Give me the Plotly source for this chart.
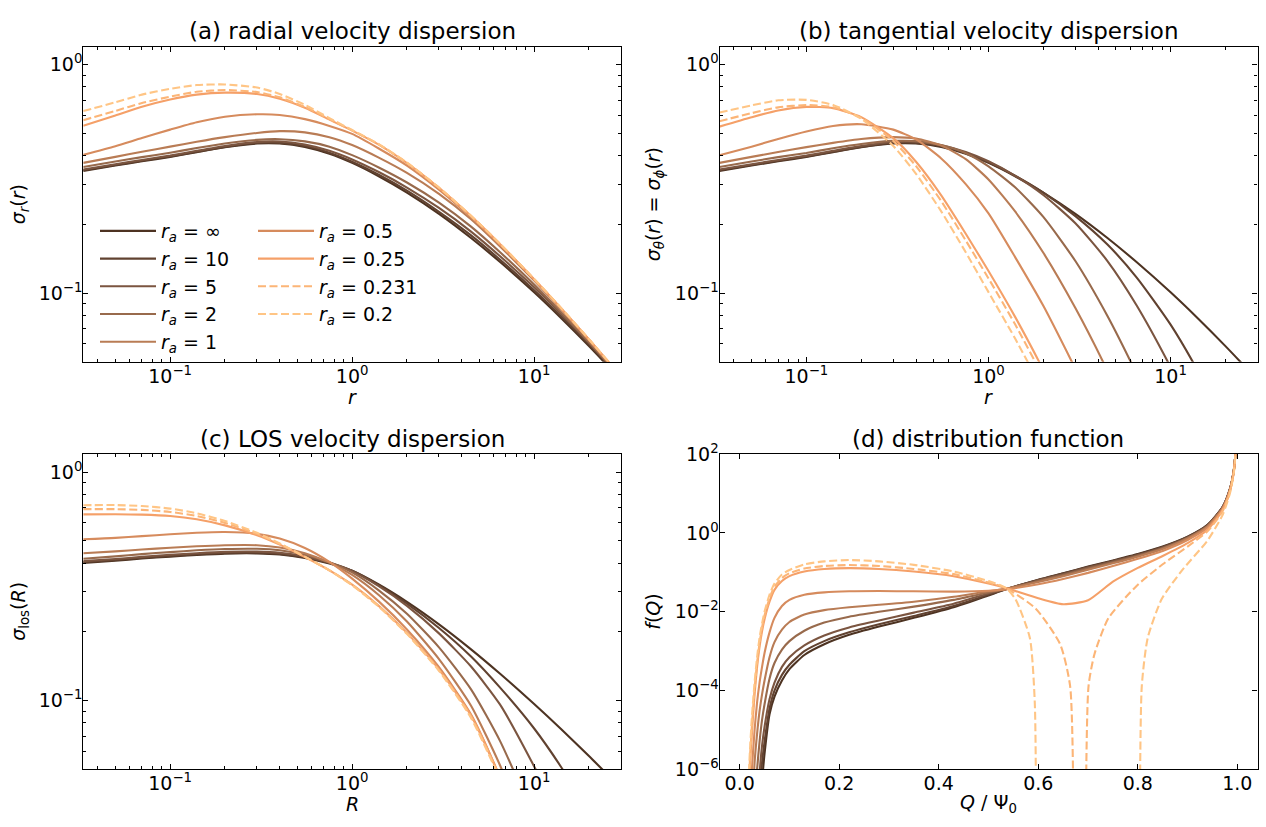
import plotly.graph_objects as go

# ---------------- data ----------------
ra_labels = ["∞", "10", "5", "2", "1", "0.5", "0.25", "0.231", "0.2"]
colors = ["#4d3322", "#614230", "#7b5540", "#986a4c", "#b97c55",
          "#d68b5d", "#f5a068", "#fcb577", "#ffc585"]
dashes = ["solid"] * 7 + ["8px,3.5px", "8px,3.5px"]

r_grid = [0.0333, 0.05, 0.07, 0.1, 0.14, 0.2, 0.3, 0.4, 0.55, 0.75,
          1.0, 1.4, 2.0, 3.0, 4.5, 6.5, 10, 14, 20, 30]

# (a) radial velocity dispersion sigma_r(r)
sigma_r = [
    [0.343, 0.362, 0.378, 0.395, 0.414, 0.435, 0.452, 0.452, 0.437, 0.408, 0.372, 0.325, 0.2758, 0.2225, 0.1744, 0.1368, 0.1008, 0.0780, 0.0586, 0.0417],
    [0.345, 0.364, 0.380, 0.397, 0.416, 0.437, 0.455, 0.455, 0.441, 0.412, 0.376, 0.330, 0.281, 0.227, 0.179, 0.1400, 0.1030, 0.0796, 0.0597, 0.0423],
    [0.348, 0.367, 0.383, 0.400, 0.420, 0.441, 0.459, 0.461, 0.447, 0.420, 0.385, 0.339, 0.290, 0.236, 0.1860, 0.1450, 0.1060, 0.0816, 0.0606, 0.0426],
    [0.357, 0.377, 0.394, 0.412, 0.432, 0.452, 0.469, 0.472, 0.462, 0.438, 0.402, 0.355, 0.305, 0.249, 0.1955, 0.1510, 0.1090, 0.0828, 0.0610, 0.0425],
    [0.372, 0.395, 0.416, 0.438, 0.460, 0.482, 0.503, 0.512, 0.506, 0.482, 0.445, 0.392, 0.336, 0.272, 0.2105, 0.1600, 0.1135, 0.0852, 0.0622, 0.0429],
    [0.403, 0.440, 0.478, 0.520, 0.560, 0.592, 0.607, 0.603, 0.578, 0.540, 0.498, 0.430, 0.362, 0.284, 0.2150, 0.1625, 0.1145, 0.0858, 0.0625, 0.0431],
    [0.541, 0.600, 0.655, 0.705, 0.740, 0.755, 0.745, 0.710, 0.648, 0.575, 0.515, 0.447, 0.371, 0.289, 0.2175, 0.1639, 0.1151, 0.0862, 0.0627, 0.0432],
    [0.572, 0.628, 0.680, 0.725, 0.762, 0.775, 0.760, 0.720, 0.654, 0.578, 0.516, 0.448, 0.372, 0.2895, 0.2178, 0.1641, 0.1152, 0.0863, 0.0628, 0.0432],
    [0.627, 0.685, 0.740, 0.785, 0.815, 0.820, 0.795, 0.745, 0.668, 0.584, 0.518, 0.449, 0.373, 0.2900, 0.2180, 0.1643, 0.1153, 0.0864, 0.0628, 0.0433],
]

# (b) tangential velocity dispersion sigma_theta(r) = sigma_phi(r)
sigma_t = [
    [0.343, 0.362, 0.378, 0.395, 0.414, 0.435, 0.452, 0.452, 0.437, 0.408, 0.372, 0.325, 0.2758, 0.2225, 0.1744, 0.1368, 0.1008, 0.0780, 0.0586, 0.0417],
    [0.345, 0.364, 0.380, 0.397, 0.416, 0.437, 0.455, 0.455, 0.440, 0.410, 0.374, 0.327, 0.2757, 0.2175, 0.1632, 0.1173, 0.0728, 0.0462, 0.0267, 0.0134],
    [0.348, 0.367, 0.383, 0.400, 0.420, 0.441, 0.459, 0.460, 0.444, 0.415, 0.378, 0.3265, 0.269, 0.2023, 0.1382, 0.0885, 0.0474, 0.0274, 0.0147, 0.0070],
    [0.357, 0.377, 0.394, 0.411, 0.431, 0.450, 0.464, 0.463, 0.445, 0.410, 0.3594, 0.2907, 0.2156, 0.1382, 0.0794, 0.0444, 0.0214, 0.0117, 0.0061, 0.0028],
    [0.372, 0.395, 0.415, 0.436, 0.455, 0.473, 0.482, 0.475, 0.443, 0.386, 0.3146, 0.2278, 0.1502, 0.0860, 0.0457, 0.0243, 0.0113, 0.0061, 0.0030, 0.0014],
    [0.402, 0.438, 0.473, 0.510, 0.539, 0.549, 0.520, 0.471, 0.389, 0.300, 0.2235, 0.1438, 0.0880, 0.0466, 0.0240, 0.0125, 0.0057, 0.0030, 0.0015, 0.0007],
    [0.536, 0.589, 0.631, 0.654, 0.646, 0.590, 0.477, 0.376, 0.268, 0.182, 0.125, 0.0787, 0.0461, 0.0240, 0.0120, 0.0060, 0.0029, 0.0015, 0.0008, 0.0004],
    [0.566, 0.614, 0.651, 0.666, 0.652, 0.586, 0.464, 0.360, 0.253, 0.170, 0.116, 0.0730, 0.0428, 0.0222, 0.0111, 0.0055, 0.0027, 0.0014, 0.0007, 0.0003],
    [0.618, 0.664, 0.699, 0.702, 0.667, 0.580, 0.441, 0.333, 0.228, 0.151, 0.101, 0.0633, 0.0371, 0.0193, 0.0096, 0.0048, 0.0023, 0.0012, 0.0006, 0.0003],
]

R_grid = [0.0333, 0.05, 0.07, 0.1, 0.14, 0.2, 0.3, 0.4, 0.55, 0.75,
          1.0, 1.4, 2.0, 3.0, 4.5, 6.5, 10, 14, 20, 30]

# (c) line-of-sight velocity dispersion sigma_los(R)
sigma_los = [
    [0.401, 0.410, 0.419, 0.427, 0.434, 0.440, 0.441, 0.436, 0.421, 0.398, 0.370, 0.3223, 0.2706, 0.2157, 0.1677, 0.1311, 0.0966, 0.0753, 0.0572, 0.0414],
    [0.404, 0.413, 0.422, 0.430, 0.437, 0.443, 0.444, 0.439, 0.424, 0.400, 0.370, 0.320, 0.266, 0.208, 0.156, 0.114, 0.0755, 0.0515, 0.0325, 0.0193],
    [0.408, 0.417, 0.426, 0.435, 0.442, 0.448, 0.449, 0.444, 0.428, 0.402, 0.369, 0.317, 0.260, 0.197, 0.141, 0.096, 0.0515, 0.0300, 0.0170, 0.0090],
    [0.418, 0.428, 0.438, 0.447, 0.455, 0.461, 0.462, 0.455, 0.435, 0.404, 0.364, 0.304, 0.240, 0.171, 0.112, 0.0665, 0.0305, 0.0150, 0.0070, 0.0030],
    [0.442, 0.450, 0.459, 0.467, 0.474, 0.479, 0.479, 0.468, 0.442, 0.402, 0.355, 0.290, 0.222, 0.152, 0.095, 0.0520, 0.0220, 0.0100, 0.0050, 0.0020],
    [0.509, 0.516, 0.525, 0.535, 0.543, 0.547, 0.537, 0.512, 0.466, 0.405, 0.342, 0.272, 0.205, 0.140, 0.087, 0.0460, 0.0190, 0.0090, 0.0040, 0.0020],
    [0.654, 0.655, 0.652, 0.643, 0.622, 0.585, 0.530, 0.482, 0.425, 0.372, 0.322, 0.260, 0.198, 0.137, 0.086, 0.0460, 0.0190, 0.0090, 0.0040, 0.0020],
    [0.689, 0.689, 0.684, 0.670, 0.643, 0.600, 0.537, 0.485, 0.426, 0.372, 0.321, 0.259, 0.197, 0.136, 0.085, 0.0455, 0.0190, 0.0090, 0.0040, 0.0020],
    [0.717, 0.718, 0.711, 0.693, 0.661, 0.612, 0.543, 0.488, 0.427, 0.372, 0.320, 0.258, 0.196, 0.135, 0.084, 0.0450, 0.0190, 0.0090, 0.0040, 0.0020],
]

# (d) distribution function f(Q) against Q/Psi0
Q_grid = [0.015, 0.02, 0.025, 0.03, 0.035, 0.04, 0.045, 0.05, 0.06, 0.07, 0.085, 0.1,
          0.13, 0.17, 0.22, 0.28, 0.35, 0.43, 0.5, 0.535, 0.6, 0.65, 0.7, 0.75,
          0.8, 0.85, 0.9, 0.94, 0.97, 0.985, 0.993, 0.998]
f_inf = [1e-9, 1e-9, 1e-9, 1e-9, 1e-8, 8e-8, 5e-7, 2.5e-6, 2.5e-5, 7e-5, 1.8e-4, 3.5e-4,
         8e-4, 1.5e-3, 2.6e-3, 4.2e-3, 7e-3, 0.013, 0.026, 0.037, 0.065, 0.095, 0.14, 0.2,
         0.29, 0.45, 0.8, 1.6, 4.5, 13, 40, 200]
f_10 = [1e-9, 1e-9, 1e-9, 1e-9, 2e-8, 2e-7, 1.5e-6, 5e-6, 3.5e-5, 1e-4, 2.5e-4, 4.5e-4,
        1e-3, 1.8e-3, 3e-3, 4.8e-3, 7.8e-3, 0.014, 0.027, 0.037, 0.064, 0.093, 0.137, 0.195,
        0.285, 0.44, 0.79, 1.58, 4.45, 13, 40, 200]
f_5 = [1e-9, 1e-9, 1e-9, 1e-9, 1e-7, 8e-7, 4e-6, 1.2e-5, 6e-5, 1.6e-4, 4e-4, 7e-4,
       1.4e-3, 2.5e-3, 4e-3, 6e-3, 9.5e-3, 0.016, 0.029, 0.038, 0.063, 0.09, 0.132, 0.19,
       0.275, 0.43, 0.77, 1.55, 4.4, 12.8, 40, 200]
f_2 = [1e-9, 1e-9, 1e-9, 1e-7, 1e-6, 5e-6, 1.8e-5, 4.5e-5, 2e-4, 5e-4, 1.1e-3, 1.8e-3,
       3.3e-3, 5.3e-3, 7.5e-3, 1e-2, 0.0135, 0.02, 0.031, 0.038, 0.06, 0.086, 0.125, 0.18,
       0.265, 0.41, 0.75, 1.5, 4.3, 12.5, 39, 200]
f_1 = [1e-9, 1e-9, 1e-7, 1.5e-6, 8e-6, 3e-5, 8e-5, 1.8e-4, 7e-4, 1.7e-3, 3.5e-3, 5.5e-3,
       8.5e-3, 1.1e-2, 1.3e-2, 1.5e-2, 0.018, 0.024, 0.033, 0.038, 0.057, 0.08, 0.117, 0.17,
       0.25, 0.39, 0.72, 1.45, 4.2, 12.3, 39, 200]
f_05 = [1e-9, 1e-7, 1.2e-6, 1e-5, 5e-5, 1.6e-4, 4e-4, 9e-4, 3e-3, 7e-3, 0.014, 0.02,
        0.027, 0.031, 0.033, 0.0335, 0.033, 0.0325, 0.034, 0.037, 0.05, 0.068, 0.097, 0.145,
        0.22, 0.35, 0.66, 1.35, 4.0, 12, 38, 200]
f_025 = [1e-8, 8e-7, 1e-5, 8e-5, 4e-4, 1.3e-3, 3.2e-3, 6.5e-3, 0.018, 0.036, 0.06, 0.08,
         0.105, 0.122, 0.128, 0.122, 0.105, 0.08, 0.052, 0.04, 0.022, 0.0155, 0.0195, 0.058,
         0.13, 0.26, 0.55, 1.2, 3.7, 11.5, 37, 200]
Q_0231_a = [0.015, 0.02, 0.025, 0.03, 0.035, 0.04, 0.045, 0.05, 0.06, 0.07, 0.085, 0.1,
            0.13, 0.17, 0.22, 0.28, 0.35, 0.43, 0.5, 0.535, 0.595, 0.644, 0.664, 0.6715]
f_0231_a = [1e-8, 1.2e-6, 1.5e-5, 1.1e-4, 5e-4, 1.6e-3, 4e-3, 8e-3, 0.022, 0.043, 0.072, 0.095,
            0.125, 0.145, 0.153, 0.145, 0.122, 0.09, 0.055, 0.04, 0.012, 1.5e-3, 1.3e-4, 1e-9]
Q_0231_b = [0.6945, 0.701, 0.713, 0.741, 0.798, 0.85, 0.9, 0.94, 0.97, 0.985, 0.993, 0.998]
f_0231_b = [1e-9, 1.3e-4, 8.5e-4, 6.9e-3, 0.046, 0.16, 0.45, 1.1, 3.5, 11, 36, 200]
Q_02_a = [0.015, 0.02, 0.025, 0.03, 0.035, 0.04, 0.045, 0.05, 0.06, 0.07, 0.085, 0.1,
          0.13, 0.17, 0.22, 0.28, 0.35, 0.43, 0.5, 0.535, 0.554, 0.583, 0.593, 0.596]
f_02_a = [1.5e-8, 2e-6, 2.5e-5, 1.6e-4, 7e-4, 2.2e-3, 5e-3, 1e-2, 0.027, 0.052, 0.088, 0.115,
          0.16, 0.19, 0.205, 0.19, 0.155, 0.105, 0.06, 0.04, 0.021, 2.2e-3, 5e-5, 1e-9]
Q_02_b = [0.8036, 0.808, 0.82, 0.848, 0.89, 0.94, 0.97, 0.985, 0.993, 0.998]
f_02_b = [1e-9, 1.3e-4, 2.2e-3, 0.021, 0.117, 0.64, 2.8, 10, 34, 200]

f_curves = [
    [(Q_grid, f_inf)], [(Q_grid, f_10)], [(Q_grid, f_5)], [(Q_grid, f_2)], [(Q_grid, f_1)],
    [(Q_grid, f_05)], [(Q_grid, f_025)],
    [(Q_0231_a, f_0231_a), (Q_0231_b, f_0231_b)],
    [(Q_02_a, f_02_a), (Q_02_b, f_02_b)],
]

# tick labels
log_tickvals_x = [0.1, 1, 10]
log_ticktext_x = ["10<sup>−1</sup>", "10<sup>0</sup>", "10<sup>1</sup>"]
log_tickvals_y = [0.1, 1]
log_ticktext_y = ["10<sup>−1</sup>", "10<sup>0</sup>"]
df_tickvals_y = [1e-6, 1e-4, 1e-2, 1, 100]
df_ticktext_y = ["10<sup>−6</sup>", "10<sup>−4</sup>", "10<sup>−2</sup>", "10<sup>0</sup>", "10<sup>2</sup>"]
df_tickvals_x = [0.0, 0.2, 0.4, 0.6, 0.8, 1.0]
df_ticktext_x = ["0.0", "0.2", "0.4", "0.6", "0.8", "1.0"]

minor_x = [m * d for d in (0.01, 0.1, 1, 10) for m in range(2, 10) if 1 / 30 <= m * d <= 30]
minor_y = [m * d for d in (0.01, 0.1) for m in range(2, 10) if 0.05 <= m * d <= 1.2]

# ---------------- figure ----------------
FONT = "DejaVu Sans"
fig = go.Figure()

panels = [("x", "y", sigma_r, r_grid), ("x2", "y2", sigma_t, r_grid), ("x3", "y3", sigma_los, R_grid)]
for pi, (xa, ya, data, grid) in enumerate(panels):
    for i, lab in enumerate(ra_labels):
        fig.add_trace(go.Scatter(
            x=grid, y=data[i], mode="lines", xaxis=xa, yaxis=ya,
            line=dict(color=colors[i], width=2.1, dash=dashes[i], shape="spline", smoothing=0.6),
            name="<i>r<sub>a</sub></i> = " + lab,
            showlegend=(pi == 0),
            legend=("legend" if i < 5 else "legend2"),
            hoverinfo="skip",
        ))

for i, lab in enumerate(ra_labels):
    for (qq, ff) in f_curves[i]:
        fig.add_trace(go.Scatter(
            x=qq, y=ff, mode="lines", xaxis="x4", yaxis="y4",
            line=dict(color=colors[i], width=2.1, dash=dashes[i], shape="spline", smoothing=0.6),
            showlegend=False, hoverinfo="skip",
        ))

W, H = 1266, 827
xl = [83.3 / W, 621 / W]
xr = [719.5 / W, 1257.5 / W]
yt = [1 - 359.3 / H, 1 - 34.7 / H]
yb = [1 - 779 / H, 1 - 454.3 / H]

tickfont = dict(family=FONT, size=19, color="black")
common = dict(showline=True, linecolor="black", linewidth=1.1, mirror="ticks",
              ticks="inside", ticklen=5, tickwidth=1.1, tickcolor="black",
              showgrid=False, zeroline=False, tickfont=tickfont)


def logx(domain, anchor):
    return dict(common, type="log", domain=domain, anchor=anchor,
                range=[-1.4771, 1.4771], tickmode="array", ticklabelstandoff=-3,
                tickvals=log_tickvals_x, ticktext=log_ticktext_x,
                minor=dict(tickmode="array", tickvals=minor_x, ticks="inside",
                           ticklen=3, tickwidth=0.9, tickcolor="black", showgrid=False))


def logy(domain, anchor):
    return dict(common, type="log", domain=domain, anchor=anchor,
                range=[-1.30103, 0.07918], tickmode="array", ticklabelstandoff=-4,
                tickvals=log_tickvals_y, ticktext=log_ticktext_y,
                minor=dict(tickmode="array", tickvals=minor_y, ticks="inside",
                           ticklen=3, tickwidth=0.9, tickcolor="black", showgrid=False))


fig.update_layout(
    width=W, height=H, margin=dict(l=0, r=0, t=0, b=0),
    paper_bgcolor="white", plot_bgcolor="white",
    font=dict(family=FONT, size=19, color="black"),
    xaxis=logx(xl, "y"), yaxis=logy(yt, "x"),
    xaxis2=logx(xr, "y2"), yaxis2=logy(yt, "x2"),
    xaxis3=logx(xl, "y3"), yaxis3=logy(yb, "x3"),
    xaxis4=dict(common, type="linear", domain=xr, anchor="y4", range=[-0.0405, 1.0405],
                tickmode="array", tickvals=df_tickvals_x, ticktext=df_ticktext_x,
                ticklabelstandoff=-3),
    yaxis4=dict(common, type="log", domain=yb, anchor="x4", range=[-6, 2],
                tickmode="array", tickvals=df_tickvals_y, ticktext=df_ticktext_y,
                ticklabelstandoff=-4),
    legend=dict(x=95 / W, y=1 - 205 / H, xanchor="left", yanchor="top",
                bgcolor="rgba(0,0,0,0)", borderwidth=0, itemwidth=56,
                font=dict(family=FONT, size=19, color="black"), traceorder="normal"),
    legend2=dict(x=253 / W, y=1 - 205 / H, xanchor="left", yanchor="top",
                 bgcolor="rgba(0,0,0,0)", borderwidth=0, itemwidth=56,
                 font=dict(family=FONT, size=19, color="black"), traceorder="normal"),
)

ann = []
titles = [("(a) radial velocity dispersion", sum(xl) / 2, 1 - 19 / H),
          ("(b) tangential velocity dispersion", sum(xr) / 2, 1 - 19 / H),
          ("(c) LOS velocity dispersion", sum(xl) / 2, 1 - 439 / H),
          ("(d) distribution function", sum(xr) / 2, 1 - 439 / H)]
for t, x, y in titles:
    ann.append(dict(text=t, x=x, y=y, xref="paper", yref="paper", showarrow=False,
                    xanchor="center", yanchor="middle", font=dict(family=FONT, size=23, color="black")))
xlabels = [("<i>r</i>", sum(xl) / 2, 1 - 395 / H), ("<i>r</i>", sum(xr) / 2, 1 - 395 / H),
           ("<i>R</i>", sum(xl) / 2, 1 - 815 / H), ("<i>Q</i> / Ψ<sub>0</sub>", sum(xr) / 2, 1 - 814 / H)]
for t, x, y in xlabels:
    ann.append(dict(text=t, x=x, y=y, xref="paper", yref="paper", showarrow=False,
                    xanchor="center", yanchor="middle", font=dict(family=FONT, size=19, color="black")))
ylabels = [("<i>σ<sub>r</sub></i>(<i>r</i>)", 19 / W, sum(yt) / 2),
           ("<i>σ<sub>θ</sub></i>(<i>r</i>) = <i>σ<sub>ϕ</sub></i>(<i>r</i>)", 654 / W, sum(yt) / 2),
           ("<i>σ</i><sub>los</sub>(<i>R</i>)", 20 / W, sum(yb) / 2),
           ("<i>f</i>(<i>Q</i>)", 653 / W, sum(yb) / 2)]
for t, x, y in ylabels:
    ann.append(dict(text=t, x=x, y=y, xref="paper", yref="paper", showarrow=False, textangle=-90,
                    xanchor="center", yanchor="middle", font=dict(family=FONT, size=19, color="black")))
fig.update_layout(annotations=ann)

fig.write_html("out.html", config={"displayModeBar": False},
               post_script="document.body.style.margin='0';document.body.style.overflow='hidden';")
